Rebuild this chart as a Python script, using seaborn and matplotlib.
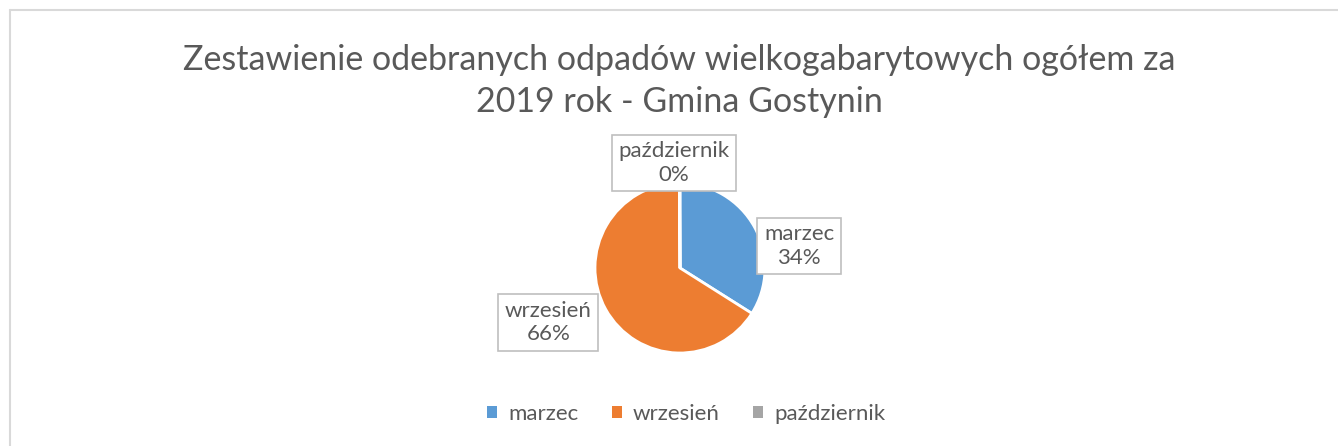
import matplotlib
matplotlib.use("Agg")
import matplotlib.pyplot as plt
import seaborn as sns
from matplotlib.patches import Patch
from matplotlib.lines import Line2D

# data
months = ["marzec", "wrzesień", "październik"]
amounts = [34.0, 66.0, 0.1]
colors = ["#5B9BD5", "#ED7D31", "#A5A5A5"]
label_pos = [(1.40, 0.26), (-1.55, -0.64), (-0.07, 1.235)]

title = "Zestawienie odebranych odpadów wielkogabarytowych ogółem za\n2019 rok - Gmina Gostynin"
text_color = "#595959"

sns.set_theme(style="white")
plt.rcParams["font.family"] = ["Lato", "DejaVu Sans"]

W, H = 1338, 446
fig = plt.figure(figsize=(W / 100, H / 100), dpi=100)

# chart frame (top and left edges only visible)
fig.add_artist(Line2D([10 / W, 10 / W], [0, 1 - 10 / H], transform=fig.transFigure,
                      color="#D9D9D9", lw=1.5))
fig.add_artist(Line2D([10 / W, 1], [1 - 10 / H, 1 - 10 / H], transform=fig.transFigure,
                      color="#D9D9D9", lw=1.5))

fig.text(679 / W, 1 - 81 / H, title, ha="center", va="center", fontsize=24.5,
         color=text_color, linespacing=1.35)

# pie axes: centre (680, 268) px, radius 85 px
cx, cy, r = 680, 268, 85
ax = fig.add_axes([(cx - r) / W, (H - cy - r) / H, 2 * r / W, 2 * r / H])
wedges, _ = ax.pie(amounts, colors=sns.color_palette(colors), startangle=90,
                   counterclock=False,
                   wedgeprops=dict(edgecolor="white", linewidth=2))
ax.set_xlim(-1, 1)
ax.set_ylim(-1, 1)
ax.set_aspect("auto")

total = sum(amounts)
for name, val, (x, y) in zip(months, amounts, label_pos):
    pct = round(100 * val / total)
    ax.text(x, y, f"{name}\n{pct}%", ha="center", va="center", fontsize=16,
            color=text_color, linespacing=1.2, clip_on=False,
            bbox=dict(boxstyle="square,pad=0.3", facecolor="white",
                      edgecolor="#BFBFBF", linewidth=1.2))

handles = [Patch(facecolor=c, edgecolor="none", label=m) for m, c in zip(months, colors)]
fig.legend(handles=handles, loc="center", bbox_to_anchor=(686 / W, 1 - 414 / H),
           ncol=3, frameon=False, fontsize=16, handlelength=0.45, handleheight=0.45,
           handletextpad=0.5, columnspacing=1.5, labelcolor=text_color)

fig.savefig("out.png", dpi=100)
